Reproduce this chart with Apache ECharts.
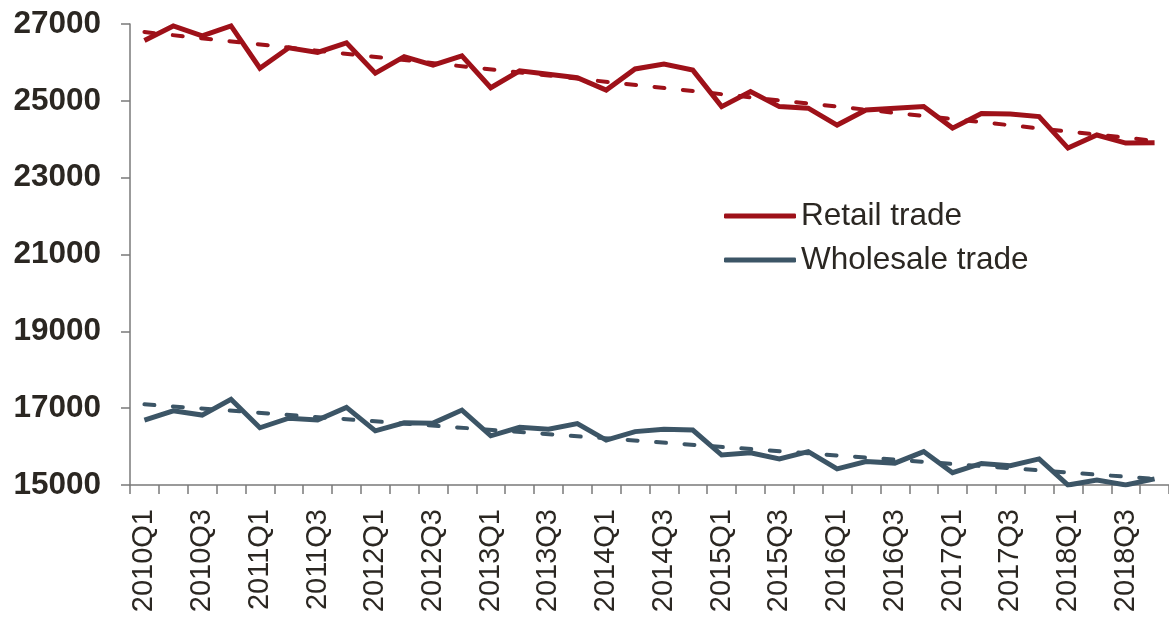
<!DOCTYPE html>
<html>
<head>
<meta charset="utf-8">
<script src="https://cdn.jsdelivr.net/npm/echarts@6/dist/echarts.min.js"></script>
<style>
  html, body { margin: 0; padding: 0; background: #ffffff; }
  #chart { width: 1169px; height: 619px; }
</style>
</head>
<body>
<div id="chart"></div>
<script>
// Quarterly employment, 2010Q1 - 2018Q4
const quarters = [];
for (let y = 2010; y <= 2018; y++) {
  for (let q = 1; q <= 4; q++) quarters.push(y + 'Q' + q);
}

const retail = [
  26570, 26950, 26690, 26950, 25850, 26380, 26260, 26510, 25720,
  26150, 25930, 26170, 25340, 25780, 25690, 25600, 25280, 25830,
  25960, 25800, 24850, 25240, 24850, 24810, 24370, 24760, 24810,
  24850, 24290, 24670, 24660, 24590, 23770, 24110, 23900, 23910
];

const wholesale = [
  16690, 16930, 16820, 17230, 16490, 16740, 16690, 17020, 16410,
  16620, 16610, 16950, 16280, 16500, 16450, 16600, 16170, 16390,
  16450, 16430, 15780, 15840, 15680, 15870, 15420, 15610, 15570,
  15870, 15320, 15560, 15500, 15680, 15000, 15130, 15000, 15160
];

// Linear trend, value at first and last quarter
const retailTrend = [26790, 23960];
const wholesaleTrend = [17100, 15160];

const yTicks = { min: 15000, max: 27000, interval: 2000 };

const retailColor = '#9e1119';
const wholesaleColor = '#3c5566';
const textColor = '#2b2722';
const axisColor = '#7a7a7a';
const font = '"Liberation Sans", Arial, sans-serif';

function trendLine(ends, color) {
  return {
    silent: true,
    symbol: ['none', 'none'],
    label: { show: false },
    lineStyle: { color: color, width: 4, type: [10, 18.5], cap: 'round' },
    data: [[
      { coord: [quarters[0], ends[0]] },
      { coord: [quarters[quarters.length - 1], ends[1]] }
    ]]
  };
}

const chart = echarts.init(document.getElementById('chart'), null, { renderer: 'canvas' });

chart.setOption({
  animation: false,
  backgroundColor: '#ffffff',
  textStyle: { fontFamily: font },
  grid: { left: 130, top: 24, width: 1044, height: 461, containLabel: false },
  legend: {
    orient: 'vertical',
    left: 719,
    top: 195,
    itemWidth: 72,
    itemHeight: 5,
    itemGap: 12,
    icon: 'roundRect',
    textStyle: { fontSize: 31.5, color: textColor, fontFamily: font, lineHeight: 32 },
    data: ['Retail trade', 'Wholesale trade']
  },
  xAxis: {
    type: 'category',
    data: quarters,
    boundaryGap: true,
    axisLine: { lineStyle: { color: axisColor, width: 1.5 } },
    axisTick: { show: true, interval: 0, length: 9, lineStyle: { color: axisColor, width: 1.5 } },
    axisLabel: {
      interval: 1,
      rotate: 90,
      margin: 24,
      fontSize: 29,
      color: textColor,
      fontFamily: font
    },
    splitLine: { show: false }
  },
  yAxis: {
    type: 'value',
    min: yTicks.min,
    max: yTicks.max,
    interval: yTicks.interval,
    axisLine: { show: true, lineStyle: { color: axisColor, width: 1.5 } },
    axisTick: { show: true, length: 9, lineStyle: { color: axisColor, width: 1.5 } },
    axisLabel: {
      margin: 29,
      fontSize: 31.5,
      fontWeight: 'bold',
      color: textColor,
      fontFamily: font,
      formatter: (v) => String(v)
    },
    splitLine: { show: false }
  },
  series: [
    {
      name: 'Retail trade',
      type: 'line',
      data: retail,
      symbol: 'none',
      color: retailColor,
      lineStyle: { color: retailColor, width: 5, join: 'miter' },
      markLine: trendLine(retailTrend, retailColor)
    },
    {
      name: 'Wholesale trade',
      type: 'line',
      data: wholesale,
      symbol: 'none',
      color: wholesaleColor,
      lineStyle: { color: wholesaleColor, width: 5, join: 'miter' },
      markLine: trendLine(wholesaleTrend, wholesaleColor)
    }
  ]
});
</script>
</body>
</html>
